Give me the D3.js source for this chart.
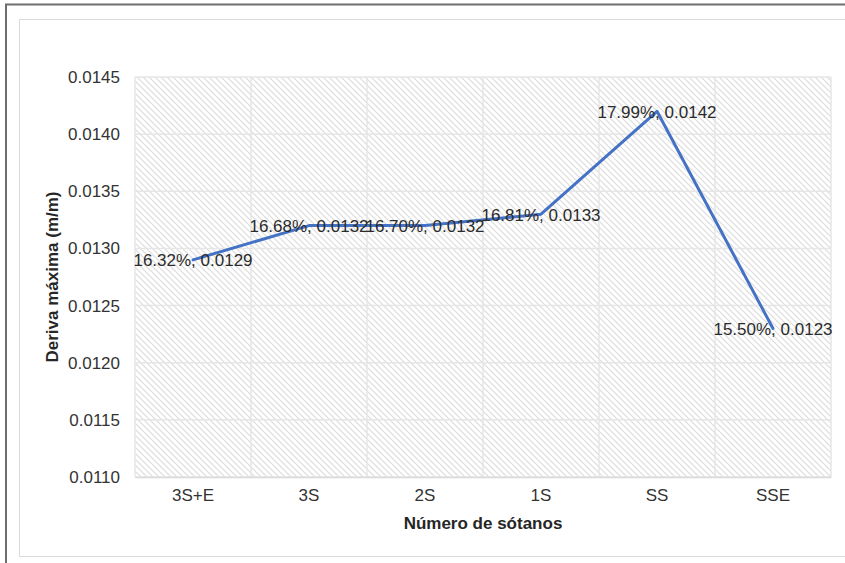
<!DOCTYPE html>
<html>
<head>
<meta charset="utf-8">
<script src="https://cdn.jsdelivr.net/npm/d3@7"></script>
<style>
  html, body { margin: 0; padding: 0; background: #ffffff; }
  svg { display: block; font-family: "Liberation Sans", Arial, sans-serif; }
</style>
</head>
<body>
<svg id="chart" width="845" height="563"></svg>
<script>
// Categories and series
const categories = ["3S+E", "3S", "2S", "1S", "SS", "SSE"];
const deriva = [0.0129, 0.0132, 0.0132, 0.0133, 0.0142, 0.0123];
const porcentajes = ["16.32%", "16.68%", "16.70%", "16.81%", "17.99%", "15.50%"];
const yTicks = [0.0110, 0.0115, 0.0120, 0.0125, 0.0130, 0.0135, 0.0140, 0.0145];

const svg = d3.select("#chart");
const W = 845, H = 563;
const plot = { left: 135, right: 831, top: 77, bottom: 477 };

// Frame lines
svg.append("rect").attr("x", 0).attr("y", 0).attr("width", W).attr("height", H).attr("fill", "#ffffff");
svg.append("line").attr("x1", 5).attr("x2", W).attr("y1", 4.5).attr("y2", 4.5)
  .attr("stroke", "#6e6e6e").attr("stroke-width", 2);
svg.append("line").attr("x1", 6).attr("x2", 6).attr("y1", 4).attr("y2", H)
  .attr("stroke", "#6e6e6e").attr("stroke-width", 2);
svg.append("rect").attr("x", 19.5).attr("y", 19.5).attr("width", W + 10).attr("height", 537)
  .attr("fill", "#ffffff").attr("stroke", "#d9d9d9").attr("stroke-width", 1);

// Diagonal hatch fill of the plot area
const defs = svg.append("defs");
const pat = defs.append("pattern").attr("id", "hatch")
  .attr("patternUnits", "userSpaceOnUse").attr("width", 6).attr("height", 6);
pat.append("rect").attr("width", 6).attr("height", 6).attr("fill", "#ffffff");
pat.append("path").attr("d", "M-1,-1 L7,7 M-1,5 L1,7 M5,-1 L7,1")
  .attr("stroke", "#dcdcdc").attr("stroke-width", 1.2);

const x = d3.scaleBand().domain(categories).range([plot.left, plot.right]);
const y = d3.scaleLinear().domain([0.0110, 0.0145]).range([plot.bottom, plot.top]);

svg.append("rect")
  .attr("x", plot.left).attr("y", plot.top)
  .attr("width", plot.right - plot.left).attr("height", plot.bottom - plot.top)
  .attr("fill", "url(#hatch)");

// Gridlines
const grid = svg.append("g").attr("stroke", "#e6e6e6").attr("stroke-width", 1.5);
grid.selectAll("line.h").data(yTicks).join("line")
  .attr("x1", plot.left).attr("x2", plot.right)
  .attr("y1", d => y(d)).attr("y2", d => y(d));
const bounds = categories.map(c => x(c)).concat([x(categories[categories.length - 1]) + x.bandwidth()]);
grid.selectAll("line.v").data(bounds).join("line")
  .attr("x1", d => d).attr("x2", d => d)
  .attr("y1", plot.top).attr("y2", plot.bottom);

// Y axis
const yAxis = svg.append("g").attr("transform", `translate(${plot.left - 15},0)`)
  .call(d3.axisLeft(y).tickValues(yTicks).tickSize(0).tickPadding(0).tickFormat(d3.format(".4f")));
yAxis.select(".domain").remove();
yAxis.selectAll("text").attr("font-size", 17).attr("fill", "#333333")
  .attr("font-family", "'Liberation Sans', Arial, sans-serif");

// X axis
const xAxis = svg.append("g").attr("transform", `translate(0,${plot.bottom})`)
  .call(d3.axisBottom(x).tickSize(0).tickPadding(12));
xAxis.select(".domain").attr("stroke", "#d9d9d9").attr("stroke-width", 1.5);
xAxis.selectAll("text").attr("font-size", 17).attr("fill", "#333333")
  .attr("font-family", "'Liberation Sans', Arial, sans-serif");

// Axis titles
svg.append("text").attr("x", (plot.left + plot.right) / 2).attr("y", 523)
  .attr("text-anchor", "middle").attr("dominant-baseline", "central")
  .attr("font-size", 17).attr("font-weight", "bold").attr("fill", "#262626")
  .text("Número de sótanos");
svg.append("text")
  .attr("transform", `translate(52,${(plot.top + plot.bottom) / 2}) rotate(-90)`)
  .attr("text-anchor", "middle").attr("dominant-baseline", "central")
  .attr("font-size", 17).attr("font-weight", "bold").attr("fill", "#262626")
  .text("Deriva máxima (m/m)");

// Series line
const pts = categories.map((c, i) => ({ c, v: deriva[i], p: porcentajes[i] }));
const cx = d => x(d.c) + x.bandwidth() / 2;
svg.append("path").datum(pts)
  .attr("fill", "none").attr("stroke", "#4472c4").attr("stroke-width", 3)
  .attr("stroke-linejoin", "round").attr("stroke-linecap", "round")
  .attr("d", d3.line().x(cx).y(d => y(d.v)));

// Data labels
svg.append("g").selectAll("text").data(pts).join("text")
  .attr("x", cx).attr("y", d => y(d.v) + 1)
  .attr("text-anchor", "middle").attr("dominant-baseline", "central")
  .attr("font-size", 17).attr("fill", "#2b2b2b")
  .text(d => `${d.p}, ${d.v.toFixed(4)}`);
</script>
</body>
</html>
